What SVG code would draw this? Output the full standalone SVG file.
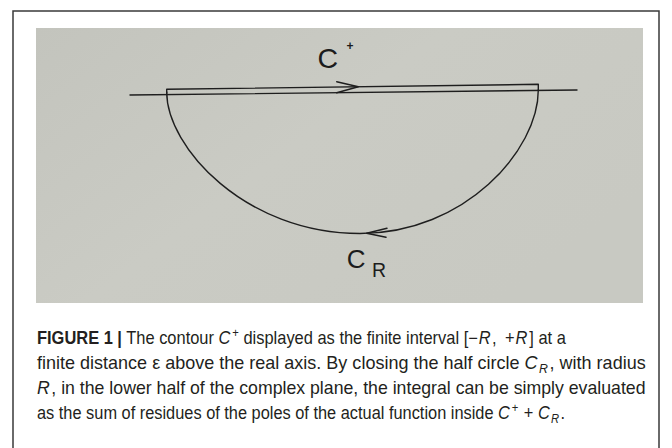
<svg xmlns="http://www.w3.org/2000/svg" width="672" height="448" viewBox="0 0 672 448">
<style>
.ink{fill:none;stroke:#1e1e1e;stroke-width:1.4;stroke-linecap:round;stroke-linejoin:round}
.lbl{font-family:"Liberation Sans",Arial,sans-serif;fill:#1c1c1c}
.cap{font-family:"Liberation Sans",Arial,sans-serif;font-size:17.5px;fill:#231f20}
.it{font-style:italic}
</style>
<defs>
<linearGradient id="paper" x1="0" y1="0" x2="1" y2="0.6">
<stop offset="0" stop-color="#c3c4bd"/>
<stop offset="0.5" stop-color="#cacbc4"/>
<stop offset="1" stop-color="#c8c9c2"/>
</linearGradient>
</defs>
<rect width="672" height="448" fill="#ffffff"/>
<path d="M13,448 V11 H659 V448" fill="none" stroke="#3a3a3a" stroke-width="1.5"/>
<rect id="photo" x="36" y="28" width="607" height="275" fill="url(#paper)"/>
<g id="axis">
<path class="ink" d="M130,95 L577,90" stroke-width="1.2"/>
</g>
<g id="connectors">
<path id="c-plus" class="ink" d="M166.7,93 L166.7,89.3 L538.3,84.3 L538.3,90"/>
<path id="c-r" class="ink" d="M538.3,90 C538.3,150 465,233.5 360,233.5 C245,233.5 166.7,147 166.7,92"/>
<path id="arrow-top" class="ink" d="M336.7,81.7 L358.3,86.8 L336.7,92.7"/>
<path id="arrow-bottom" class="ink" d="M387,228.3 L366.7,233.3 L386,237.3"/>
</g>
<g id="label-cplus">
<text class="lbl" x="317.6" y="68" font-size="28.5">C</text>
<text class="lbl" x="346.5" y="50" font-size="12" font-weight="bold">+</text>
</g>
<g id="label-cr">
<text class="lbl" x="346.7" y="268" font-size="26">C</text>
<text class="lbl" x="372" y="277" font-size="19.5">R</text>
</g>
<g id="caption">
<text class="cap" transform="translate(37,344) scale(0.94,1)"><tspan font-weight="bold">FIGURE 1 |</tspan> The contour <tspan class="it">C</tspan><tspan font-size="12" dx="2" dy="-7">+</tspan><tspan dy="7"> displayed as the finite interval [−</tspan><tspan class="it" dx="1">R</tspan><tspan dx="1.5">, </tspan><tspan dx="4">+</tspan><tspan class="it" dx="1">R</tspan><tspan dx="2">] at a</tspan></text>
<text class="cap" transform="translate(37,369) scale(1.03,1)">finite distance ε above the real axis. By closing the half circle <tspan class="it">C</tspan><tspan class="it" font-size="12" dx="1.5" dy="4">R</tspan><tspan dx="1.5" dy="-4">, with radius</tspan></text>
<text class="cap" transform="translate(37,394) scale(1.012,1)"><tspan class="it">R</tspan><tspan dx="1.5">, in the lower half of the complex plane, the integral can be simply evaluated</tspan></text>
<text class="cap" transform="translate(37,419) scale(0.935,1)">as the sum of residues of the poles of the actual function inside <tspan class="it">C</tspan><tspan font-size="12" dx="2" dy="-7">+</tspan><tspan dx="1" dy="7"> + </tspan><tspan class="it">C</tspan><tspan class="it" font-size="12" dx="1.5" dy="4">R</tspan><tspan dx="1.5" dy="-4">.</tspan></text>
</g>
</svg>
